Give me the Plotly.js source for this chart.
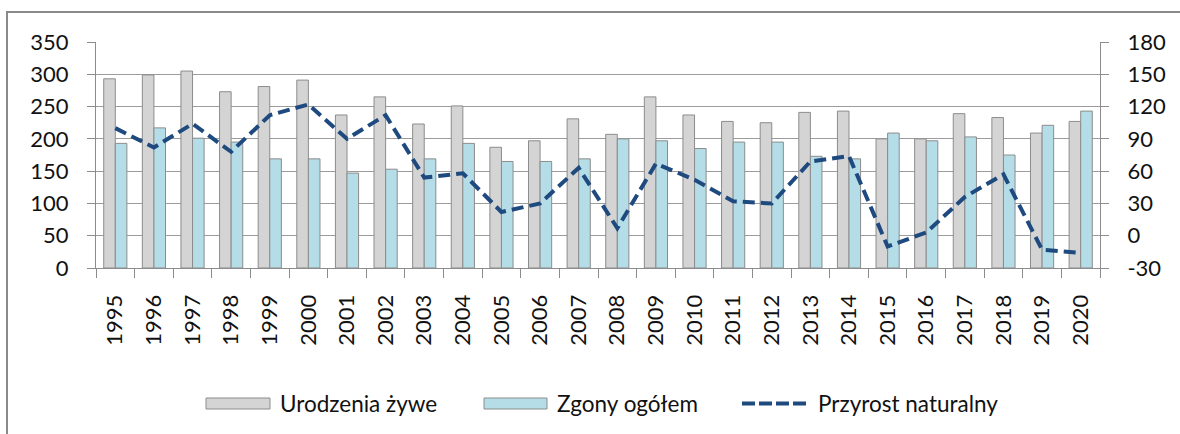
<!DOCTYPE html>
<html>
<head>
<meta charset="utf-8">
<script src="https://cdn.plot.ly/plotly-3.0.1.min.js"></script>
<style>
  html, body { margin: 0; padding: 0; background: #ffffff; }
  #chart { width: 1180px; height: 434px; }
</style>
</head>
<body>
<div id="chart"></div>
<script>
// ---- data ----
const years = ["1995","1996","1997","1998","1999","2000","2001","2002","2003","2004","2005","2006","2007","2008","2009","2010","2011","2012","2013","2014","2015","2016","2017","2018","2019","2020"];
const births = [293,299,305,273,281,291,237,265,223,251,187,197,231,207,265,237,227,225,241,243,200,200,239,233,209,227];
const deaths = [193,217,201,195,169,169,147,153,169,193,165,165,169,200,197,185,195,195,173,169,209,197,203,175,221,243];
const naturalIncrease = [100,82,104,78,112,122,90,112,54,58,22,30,63,7,67,52,32,30,69,74,-10,3,36,57,-13,-16];
const seriesNames = ["Urodzenia żywe", "Zgony ogółem", "Przyrost naturalny"];
const rightTickVals = [-30, 0, 30, 60, 90, 120, 150, 180];
const rightTickText = ["-30", "0", "30", "60", "90", "120", "150", "180"];

// ---- style ----
const W = 1180, H = 434;
const M = { l: 96, r: 80, t: 42, b: 166 };
const PW = W - M.l - M.r, PH = H - M.t - M.b;
const px = x => (x - M.l) / PW;
const py = y => (H - M.b - y) / PH;

const grayFill = "#d4d4d4", blueFill = "#b4dde8", barEdge = "#8c8c8c";
const lineColor = "#1f4a7f", axisColor = "#8c8c8c", gridColor = "#9c9c9c";
const FONT = "Lato, 'Open Sans', sans-serif";
const TXT = "#111111";

const traces = [
  { type: "bar", x: years, y: births, name: seriesNames[0], showlegend: false,
    marker: { color: grayFill, line: { color: barEdge, width: 1 } }, hoverinfo: "x+y" },
  { type: "bar", x: years, y: deaths, name: seriesNames[1], showlegend: false,
    marker: { color: blueFill, line: { color: barEdge, width: 1 } }, hoverinfo: "x+y" },
  { type: "scatter", mode: "lines", x: years, y: naturalIncrease, yaxis: "y2", name: seriesNames[2], showlegend: false,
    line: { color: lineColor, width: 4, dash: "12px,6px" }, hoverinfo: "x+y" }
];

const shapes = [
  // outer frame (left & top edges)
  { type: "path", xref: "paper", yref: "paper",
    path: `M ${px(7)},${py(440)} L ${px(7)},${py(12)} L ${px(1190)},${py(12)}`,
    line: { color: "#8a8a8a", width: 2 } },
  // legend symbols
  { type: "rect", xref: "paper", yref: "paper", x0: px(206), x1: px(270), y0: py(409), y1: py(398),
    fillcolor: grayFill, line: { color: barEdge, width: 1 } },
  { type: "rect", xref: "paper", yref: "paper", x0: px(484), x1: px(547), y0: py(409), y1: py(398),
    fillcolor: blueFill, line: { color: barEdge, width: 1 } },
  { type: "line", xref: "paper", yref: "paper", x0: px(742), x1: px(810), y0: py(403.5), y1: py(403.5),
    line: { color: lineColor, width: 4, dash: "13px,4px" } }
];

const legendText = (txt, x) => ({
  text: txt, xref: "paper", yref: "paper", x: px(x), y: py(403), xanchor: "left", yanchor: "middle",
  showarrow: false, font: { family: FONT, size: 22.5, color: TXT }
});

const layout = {
  width: W, height: H,
  margin: M,
  paper_bgcolor: "#ffffff", plot_bgcolor: "#ffffff",
  showlegend: false,
  barmode: "group", bargap: 0.4, bargroupgap: 0,
  font: { family: FONT, size: 22, color: TXT },
  xaxis: {
    type: "category", tickson: "boundaries", ticks: "outside", ticklen: 9, tickcolor: axisColor, tickwidth: 1,
    showline: true, linecolor: axisColor, linewidth: 1, showgrid: false, tickangle: -90,
    ticklabelstandoff: 17, tickfont: { family: FONT, size: 22, color: TXT }
  },
  yaxis: {
    range: [0, 350], tick0: 0, dtick: 50, ticks: "outside", ticklen: 8, tickcolor: axisColor,
    showline: true, linecolor: axisColor, showgrid: true, gridcolor: gridColor, gridwidth: 1,
    zeroline: false, ticklabelstandoff: 14, tickfont: { family: FONT, size: 22, color: TXT }
  },
  yaxis2: {
    overlaying: "y", side: "right", range: [-30, 180], tickmode: "array",
    tickvals: rightTickVals, ticktext: rightTickText, ticks: "outside", ticklen: 8,
    tickcolor: axisColor, showline: true, linecolor: axisColor, showgrid: false, zeroline: false,
    ticklabelstandoff: 14, tickfont: { family: FONT, size: 22, color: TXT }
  },
  shapes: shapes,
  annotations: [legendText(seriesNames[0], 278), legendText(seriesNames[1], 555), legendText(seriesNames[2], 816)]
};

Plotly.newPlot("chart", traces, layout, { displayModeBar: false, staticPlot: true });
</script>
</body>
</html>
